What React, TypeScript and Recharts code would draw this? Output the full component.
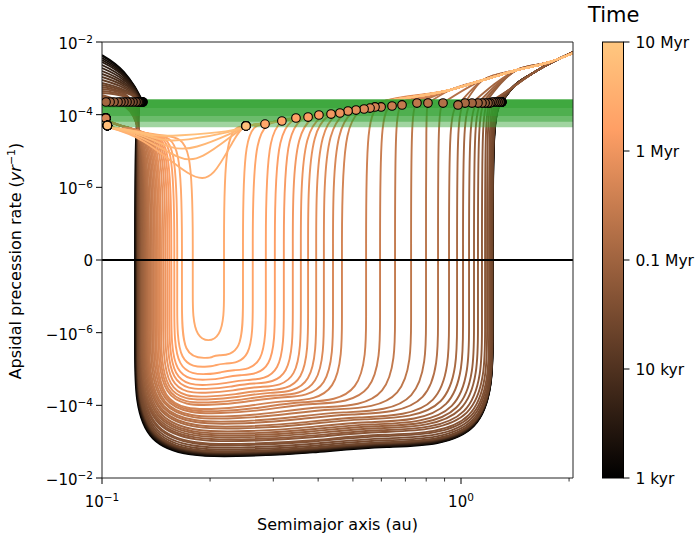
import React from "react";
import {
  ComposedChart,
  Line,
  Scatter,
  XAxis,
  YAxis,
  ReferenceArea,
  ReferenceLine,
} from "recharts";

const FONT = "DejaVu Sans, sans-serif";

// ---- values (rates in yr^-1, distances in au) ----

// curves that dip below zero, latest (lightest) first
const crossTimeKyr = [
  2750, 2370, 2030, 1750, 1500, 1290, 1110, 950, 820, 700,
  600, 520, 450, 380, 330, 280, 240, 210, 180, 155,
  133, 114, 98, 84, 73, 62, 54, 46, 40, 34,
  29, 25, 21, 16, 12, 9.1, 6.9, 5.2, 4.0, 3.0,
  2.3, 1.7, 1.3, 1.0,
];
const crossLeftWall = [
  0.179, 0.167, 0.162, 0.159, 0.156, 0.154, 0.152, 0.15, 0.148, 0.146,
  0.1446, 0.1432, 0.1418, 0.1405, 0.1391, 0.1378, 0.1365, 0.1352, 0.1343, 0.1335,
  0.1326, 0.1318, 0.1309, 0.1301, 0.1292, 0.1288, 0.1284, 0.128, 0.1276, 0.1272,
  0.1268, 0.1264, 0.1261, 0.1259, 0.1257, 0.1255, 0.1253, 0.1251, 0.1249, 0.1247,
  0.1245, 0.1243, 0.1241, 0.1236,
];
const crossRightWall = [
  0.2187, 0.247, 0.263, 0.286, 0.303, 0.321, 0.34, 0.358, 0.375, 0.395,
  0.415, 0.44, 0.466, 0.544, 0.595, 0.655, 0.726, 0.799, 0.863, 0.926,
  0.975, 1.013, 1.053, 1.087, 1.115, 1.144, 1.167, 1.182, 1.197, 1.205,
  1.213, 1.22, 1.2205, 1.221, 1.2215, 1.222, 1.2225, 1.223, 1.2235, 1.224,
  1.2245, 1.225, 1.2255, 1.226,
];
// deepest point of each curve
const crossBottom = [
  -1.3e-6, -5.0e-6, -8.8e-6, -1.4e-5, -2.0e-5, -2.8e-5, -3.6e-5, -4.6e-5, -5.9e-5, -7.1e-5,
  -8.6e-5, -1.0e-4, -1.3e-4, -1.5e-4, -1.7e-4, -2.1e-4, -2.4e-4, -2.9e-4, -3.3e-4, -4.0e-4,
  -4.5e-4, -5.4e-4, -6.2e-4, -7.0e-4, -7.9e-4, -9.0e-4, -1.0e-3, -1.2e-3, -1.3e-3, -1.5e-3,
  -1.7e-3, -1.9e-3, -1.95e-3, -2.0e-3, -2.05e-3, -2.1e-3, -2.15e-3, -2.2e-3, -2.25e-3, -2.3e-3,
  -2.4e-3, -2.45e-3, -2.5e-3, -2.6e-3,
];
// rate at a = 0.1 au
const crossStart = [
  5.0e-5, 5.0e-5, 5.0e-5, 5.0e-5, 5.0e-5, 5.0e-5, 5.0e-5, 5.0e-5, 5.0e-5, 5.0e-5,
  5.0e-5, 8.0e-5, 8.0e-5, 8.0e-5, 8.0e-5, 8.0e-5, 8.0e-5, 8.0e-5, 8.0e-5, 8.0e-5,
  8.0e-5, 2.54e-4, 2.7e-4, 2.88e-4, 3.06e-4, 3.27e-4, 3.48e-4, 3.94e-4, 4.48e-4, 5.08e-4,
  5.77e-4, 6.55e-4, 7.43e-4, 9.0e-4, 1.09e-3, 1.32e-3, 1.59e-3, 1.92e-3, 2.33e-3, 2.82e-3,
  3.2e-3, 3.63e-3, 4.12e-3, 4.39e-3,
];
// where the later curves sit on their start value (two marker positions)
const orangeDotAu = [
  0.1035, 0.1035, 0.1035, 0.1035, 0.1035, 0.1035, 0.1035, 0.1035, 0.1035, 0.1035,
  0.1035, 0.1025, 0.1025, 0.1025, 0.1025, 0.1025, 0.1025, 0.1025, 0.1025, 0.1025, 0.1025,
];
// level the later curves hold before their left wall
const orangePlateau = [
  2.4e-5, 2.5e-5, 2.6e-5, 2.7e-5, 2.8e-5, 2.9e-5, 3.0e-5, 3.1e-5, 3.2e-5, 3.3e-5,
  3.4e-5, 3.5e-5, 3.6e-5, 3.7e-5, 3.8e-5, 3.9e-5, 4.0e-5, 4.1e-5, 4.2e-5, 4.3e-5, 4.4e-5,
];
// early curves: left-hand hump and where it meets the planet rate
const darkLeftDotAu = [
  0.1026, 0.1053, 0.108, 0.1108, 0.1129, 0.1151, 0.1174, 0.1197, 0.122, 0.1244,
  0.126, 0.1268, 0.1268, 0.1276, 0.1276, 0.128, 0.1284, 0.1284, 0.1288, 0.1292,
  0.1292, 0.1297, 0.1301,
];
const darkHumpMid = [
  2.42e-4, 2.52e-4, 2.63e-4, 2.73e-4, 2.84e-4, 2.97e-4, 3.22e-4, 3.48e-4, 3.78e-4, 4.1e-4,
  4.45e-4, 4.83e-4, 5.45e-4, 6.15e-4, 6.94e-4, 7.82e-4, 8.88e-4, 1.0e-3, 1.13e-3, 1.23e-3,
  1.33e-3, 1.44e-3, 1.5e-3,
];
const darkHumpLate = [
  2.33e-4, 2.38e-4, 2.44e-4, 2.48e-4, 2.53e-4, 2.6e-4, 2.71e-4, 2.82e-4, 2.95e-4, 3.08e-4,
  3.22e-4, 3.37e-4, 3.59e-4, 3.82e-4, 4.07e-4, 4.34e-4, 4.65e-4, 4.96e-4, 5.28e-4, 5.52e-4,
  5.77e-4, 6.0e-4, 6.15e-4,
];
const humpAu = [0.1, 0.115, 0.123];
const leftDotRate = 2.23e-4;

// resonance markers on the outer branch
const resonanceAu = [
  0.2518, 0.2845, 0.317, 0.347, 0.375, 0.402, 0.4345, 0.46, 0.4845, 0.51,
  0.537, 0.558, 0.576, 0.599, 0.6425, 0.685, 0.754, 0.809, 0.891, 0.981,
  1.026, 1.073, 1.115, 1.144, 1.167, 1.189, 1.205, 1.22, 1.236, 1.252,
  1.268, 1.284, 1.286, 1.288, 1.29, 1.292, 1.293, 1.294, 1.295, 1.296,
  1.297, 1.298, 1.299, 1.3,
];
const resonanceRate = [
  4.9e-5, 5.5e-5, 6.7e-5, 8.1e-5, 8.6e-5, 9.8e-5, 1.04e-4, 1.11e-4, 1.26e-4, 1.34e-4,
  1.43e-4, 1.52e-4, 1.63e-4, 1.63e-4, 1.73e-4, 1.85e-4, 2.09e-4, 2.09e-4, 2.09e-4, 1.85e-4,
  2.09e-4, 2.09e-4, 2.09e-4, 2.09e-4, 2.09e-4, 2.09e-4, 2.09e-4, 2.23e-4, 2.23e-4, 2.23e-4,
  2.23e-4, 2.23e-4, 2.23e-4, 2.23e-4, 2.23e-4, 2.23e-4, 2.23e-4, 2.23e-4, 2.23e-4, 2.23e-4,
  2.23e-4, 2.23e-4, 2.23e-4, 2.23e-4,
];

// latest curves, which stay positive
const ncTimeKyr = [6900, 5750, 4800, 4000, 3300];
const ncStart = [5.0e-5, 5.0e-5, 5.0e-5, 5.0e-5, 5.0e-5];
const ncShoulder = [3.2e-5, 3.0e-5, 2.8e-5, 2.6e-5, 2.5e-5]; // at 0.13 au
const ncMinAu = [0.1498, 0.1577, 0.1682, 0.1758, 0.191];
const ncMinRate = [2.6e-5, 1.9e-5, 1.1e-5, 5.5e-6, 1.6e-6];
const ncRiseAu = [0.232, 0.234, 0.236, 0.238, 0.238];
const ncDotAu = [0.2518, 0.2518, 0.2518, 0.2518, 0.2518];
const ncDotRate = [4.9e-5, 4.9e-5, 4.9e-5, 4.9e-5, 4.9e-5];

// outer branch that every curve joins
const upperEnvAu = [0.323, 0.454, 0.595, 0.932, 1.152, 1.432, 1.77, 2.051];
const upperEnvRate = [7.1e-5, 1.2e-4, 2.2e-4, 4.77e-4, 9.0e-4, 1.7e-3, 2.82e-3, 4.98e-3];
const darkEnvAu = [1.396, 1.587, 2.051];
const darkEnvRate = [5.77e-4, 1.4e-3, 5.3e-3];

// planet precession band
const bandTopRate = 2.61e-4;
const bandBottomRate = [1.53e-4, 9.2e-5, 6.4e-5, 4.49e-5];

const xDomain = [0.1, 2.051];
const xTicks = [0.1, 0.2, 0.3, 0.4, 0.5, 0.6, 0.7, 0.8, 0.9, 1, 2];
const xMajor = [0.1, 1];
const yTickRates = [1e-2, 1e-4, 1e-6, 0, -1e-6, -1e-4, -1e-2];
const cbarTicksKyr = [1, 10, 100, 1000, 10000];
const cbarLabels = ["1 kyr", "10 kyr", "0.1 Myr", "1 Myr", "10 Myr"];

// ---- helpers ----

const LIN = 1e-7;
const sym = (v: number) => {
  const a = Math.abs(v);
  return a <= LIN ? v / LIN : Math.sign(v) * (Math.log10(a / LIN) + 1);
};
const yLimit = sym(1e-2);

const copper = (f: number) => {
  const r = Math.min(1, 1.25 * f);
  const g = 0.7812 * f;
  const b = 0.4975 * f;
  return `rgb(${Math.round(r * 255)},${Math.round(g * 255)},${Math.round(b * 255)})`;
};
const colorOf = (kyr: number) => copper(Math.log10(kyr) / 4);

type Pt = { x: number; y: number };
const at = (x: number, v: number): Pt => ({ x, y: sym(v) });

const upperEnv = upperEnvAu.map((a, k) => at(a, upperEnvRate[k]));
const darkEnv = darkEnvAu.map((a, k) => at(a, darkEnvRate[k]));
const DARK_FROM = 21;

interface Curve {
  color: string;
  hump?: Pt[];
  body: Pt[];
  tail: Pt[];
  leftDot: Pt;
  rightDot: Pt;
}

const tailFrom = (dot: Pt) => {
  const useDark = dot.x >= 1.18;
  const env = useDark ? darkEnv : upperEnv;
  const gap = useDark ? 1.04 : 1.1;
  return [dot, ...env.filter((p) => p.x > dot.x * gap)];
};

const crossingCurves: Curve[] = crossTimeKyr.map((kyr, i) => {
  const L = crossLeftWall[i];
  const R = crossRightWall[i];
  const tb = sym(crossBottom[i]);
  const depth = -tb;
  const width = Math.log10(R / L);
  // corner sizes of the control polygon (t units / decades)
  const frac = 0.5 - 0.18 * Math.min(1, Math.max(0, (width - 0.08) / 0.3));
  const dvL = Math.min(0.6 * depth, 3.0);
  const dvR = Math.min(0.6 * depth, 3.4);
  const dhL = Math.min(frac * width, 0.3);
  const dhR = Math.min(frac * width, 0.36);
  const slant = Math.min(0.3, 0.5 * width);
  const tr = tb + slant;
  const mid = Math.sqrt(L * R);
  const narrow = frac >= 0.45;
  const floor: Pt[] = narrow
    ? [
        { x: L, y: tb - 0.15 },
        { x: R, y: tb - 0.15 },
      ]
    : [
        { x: L, y: tb },
        { x: L * 10 ** dhL, y: tb },
        { x: mid, y: tb + 0.35 * slant },
        { x: R / 10 ** dhR, y: tr },
        { x: R, y: tr },
      ];
  const rightDot = at(resonanceAu[i], resonanceRate[i]);
  const dark = i >= DARK_FROM;
  const j = i - DARK_FROM;
  const leftDot = dark ? at(darkLeftDotAu[j], leftDotRate) : at(orangeDotAu[i], crossStart[i]);
  const lead: Pt[] = dark
    ? [leftDot, at(L, leftDotRate * 0.8)]
    : [at(0.1, crossStart[i]), at(L / 1.17, orangePlateau[i]), at(L, orangePlateau[i])];
  const lift = 0.06 + (0.3 * i) / (crossTimeKyr.length - 1);
  const body: Pt[] = [
    ...lead,
    { x: L, y: 0 },
    { x: L, y: tb + dvL },
    ...floor,
    { x: R, y: tr + dvR },
    { x: R, y: 0 },
    { x: R, y: rightDot.y - lift },
    rightDot,
  ];
  const hump = dark
    ? [
        at(humpAu[0], crossStart[i]),
        ...[at(humpAu[1], darkHumpMid[j]), at(humpAu[2], darkHumpLate[j])].filter(
          (p) => p.x < darkLeftDotAu[j] / 1.01
        ),
        leftDot,
      ]
    : undefined;
  return { color: colorOf(kyr), hump, body, tail: tailFrom(rightDot), leftDot, rightDot };
});

const positiveCurves: Curve[] = ncTimeKyr.map((kyr, k) => {
  const rightDot = at(ncDotAu[k], ncDotRate[k]);
  return {
    color: colorOf(kyr),
    body: [
      at(0.1, ncStart[k]),
      at(0.13, ncShoulder[k]),
      at(ncMinAu[k] / 1.07, ncMinRate[k]),
      at(ncMinAu[k] * 1.07, ncMinRate[k]),
      at(ncRiseAu[k], ncDotRate[k] * 0.7),
      rightDot,
    ],
    tail: tailFrom(rightDot),
    leftDot: at(0.1035, ncStart[k]),
    rightDot,
  };
});

// earliest first, so the later (lighter) curves sit on top
const drawOrder: Curve[] = [...crossingCurves].reverse().concat([...positiveCurves].reverse());

const lineProps = {
  dataKey: "y",
  dot: false,
  activeDot: false,
  isAnimationActive: false,
  strokeWidth: 1.9,
  legendType: "none" as const,
};

const seriesLines = drawOrder.flatMap((c, k) => {
  const out = [];
  if (c.hump)
    out.push(<Line key={`h${k}`} {...lineProps} data={c.hump} type="monotone" stroke={c.color} />);
  out.push(<Line key={`b${k}`} {...lineProps} data={c.body} type="basis" stroke={c.color} />);
  out.push(<Line key={`t${k}`} {...lineProps} data={c.tail} type="monotone" stroke={c.color} />);
  return out;
});

const leftDots = drawOrder.map((c) => ({ ...c.leftDot, c: c.color }));
const rightDots = drawOrder.map((c) => ({ ...c.rightDot, c: c.color }));

const DotShape = (p: any) => (
  <circle
    cx={p.cx}
    cy={p.cy}
    r={4.3}
    fill={p.payload?.c ?? p.c}
    stroke="#000"
    strokeWidth={1.1}
  />
);

const yTickPos = yTickRates.map(sym);

const expOf = (v: number) => {
  const e = Math.round(Math.log10(Math.abs(v)));
  return (e < 0 ? "\u2212" : "") + Math.abs(e);
};

function XTick(props: any) {
  const { x, y, payload } = props;
  const v = payload.value;
  const major = xMajor.some((m) => Math.abs(m - v) < 1e-9);
  return (
    <g>
      <line
        x1={x}
        x2={x}
        y1={y}
        y2={y + (major ? 6 : 3.5)}
        stroke="#000"
        strokeWidth={major ? 1 : 0.8}
      />
      {major && (
        <text x={x} y={y + 29} textAnchor="middle" fontSize={15} fontFamily={FONT} fill="#000">
          10
          <tspan dy={-6.5} fontSize={10.5}>
            {expOf(v)}
          </tspan>
        </text>
      )}
    </g>
  );
}

function YTick(props: any) {
  const { x, y, payload } = props;
  const k = yTickPos.findIndex((t) => Math.abs(t - payload.value) < 1e-6);
  const v = yTickRates[k];
  return (
    <g>
      <line x1={x - 6} x2={x} y1={y} y2={y} stroke="#000" strokeWidth={1} />
      {v === 0 ? (
        <text x={x - 9} y={y + 5.5} textAnchor="end" fontSize={15} fontFamily={FONT} fill="#000">
          0
        </text>
      ) : (
        <text x={x - 9} y={y + 7} textAnchor="end" fontSize={15} fontFamily={FONT} fill="#000">
          {v < 0 ? "\u221210" : "10"}
          <tspan dy={-6.5} fontSize={10.5}>
            {expOf(v)}
          </tspan>
        </text>
      )}
    </g>
  );
}

function Colorbar() {
  const top = 42;
  const bottom = 478;
  const x = 602.5;
  const w = 21;
  const yOf = (kyr: number) => bottom - (Math.log10(kyr) / 4) * (bottom - top);
  return (
    <svg
      width={695}
      height={539}
      style={{ position: "absolute", left: 0, top: 0, pointerEvents: "none" }}
    >
      <defs>
        <linearGradient id="copperBar" x1="0" y1="1" x2="0" y2="0">
          <stop offset="0" stopColor={copper(0)} />
          <stop offset="0.8" stopColor={copper(0.8)} />
          <stop offset="1" stopColor={copper(1)} />
        </linearGradient>
      </defs>
      <rect x={x} y={top} width={w} height={bottom - top} fill="url(#copperBar)" stroke="#000" strokeWidth={1} />
      {cbarTicksKyr.map((kyr, k) => (
        <g key={kyr}>
          <line x1={x + w} x2={x + w + 6} y1={yOf(kyr)} y2={yOf(kyr)} stroke="#000" strokeWidth={1} />
          <text x={x + w + 12} y={yOf(kyr) + 5.5} fontSize={15.5} fontFamily={FONT} fill="#000">
            {cbarLabels[k]}
          </text>
        </g>
      ))}
      <text x={588} y={22} fontSize={21} fontFamily={FONT} fill="#000">
        Time
      </text>
      <text x={337.5} y={530} textAnchor="middle" fontSize={16} fontFamily={FONT} fill="#000">
        Semimajor axis (au)
      </text>
      <text
        x={21}
        y={261}
        textAnchor="middle"
        fontSize={16}
        fontFamily={FONT}
        fill="#000"
        transform="rotate(-90 21 261)"
      >
        Apsidal precession rate (<tspan fontStyle="italic">yr</tspan>
        <tspan dy={-6} fontSize={11}>
          {"\u22121"}
        </tspan>
        <tspan dy={6}>)</tspan>
      </text>
    </svg>
  );
}

export default function App() {
  return (
    <div
      style={{
        position: "absolute",
        left: 0,
        top: 0,
        width: 695,
        height: 539,
        background: "#fff",
        fontFamily: FONT,
      }}
    >
      <ComposedChart width={695} height={539} margin={{ top: 42, right: 122, bottom: 0, left: 0 }}>
        <XAxis
          dataKey="x"
          type="number"
          scale="log"
          domain={xDomain}
          allowDataOverflow
          ticks={xTicks}
          interval={0}
          tick={<XTick />}
          tickLine={false}
          tickSize={0}
          tickMargin={0}
          height={61}
          axisLine={{ stroke: "#222", strokeWidth: 1 }}
        />
        <YAxis
          dataKey="y"
          type="number"
          domain={[-yLimit, yLimit]}
          allowDataOverflow
          ticks={yTickPos}
          interval={0}
          tick={<YTick />}
          tickLine={false}
          tickSize={0}
          tickMargin={0}
          width={102}
          axisLine={{ stroke: "#222", strokeWidth: 1 }}
        />
        {seriesLines}
        {bandBottomRate.map((b) => (
          <ReferenceArea
            key={b}
            y1={sym(b)}
            y2={sym(bandTopRate)}
            fill="#2ca02c"
            fillOpacity={0.45}
            stroke="none"
            zIndex={450}
          />
        ))}
        <ReferenceLine y={0} stroke="#000" strokeWidth={1.8} zIndex={460} />
        <ReferenceLine y={yLimit} stroke="#222" strokeWidth={1} zIndex={460} />
        <ReferenceLine x={xDomain[1]} stroke="#222" strokeWidth={1} zIndex={460} />
        <Scatter data={leftDots} dataKey="y" isAnimationActive={false} shape={DotShape} zIndex={700} />
        <Scatter data={rightDots} dataKey="y" isAnimationActive={false} shape={DotShape} zIndex={700} />
      </ComposedChart>
      <Colorbar />
    </div>
  );
}
